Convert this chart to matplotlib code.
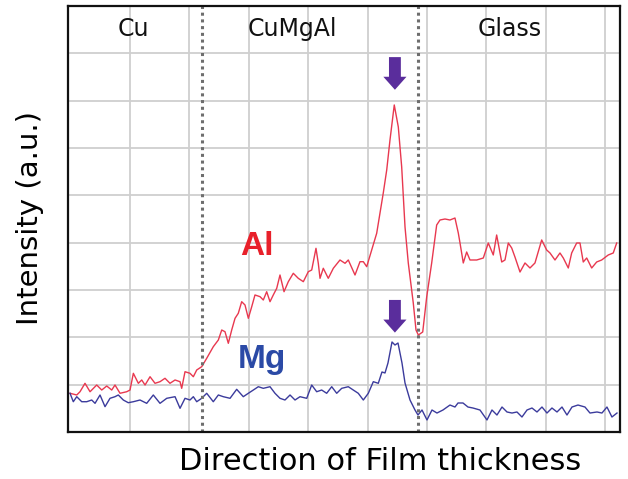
import numpy as np
import matplotlib.pyplot as plt
from matplotlib.patches import FancyArrow

# Al profile (position, intensity)
al_x = [-0.1, 1.03, 1.58, 2.42, 3.27, 4.39, 5.24, 6.08, 6.92, 7.47, 8.32, 9.44, 10.0,
        10.56, 11.4, 11.97, 12.53, 13.37, 14.21, 15.05, 15.89, 16.73, 17.58, 18.42, 18.7,
        19.26, 20.1, 20.66, 21.23, 22.07, 22.91, 24.02, 24.87, 25.44, 25.99, 26.55, 27.12,
        27.68, 28.23, 28.8, 29.36, 29.92, 30.49, 31.04, 31.89, 32.44, 33.01, 33.57, 34.12,
        34.7, 35.25, 35.93, 36.65, 37.49, 38.33, 39.18, 40.02, 40.59, 41.31, 41.7, 41.99,
        42.54, 43.38, 44.23, 45.35, 46.2, 46.75, 47.88, 48.72, 49.28, 49.85, 50.69, 51.53,
        52.64, 53.22, 53.77, 54.49, 55.17, 55.74, 56.3, 56.85, 57.69, 58.15, 58.54, 59.28,
        59.95, 60.79, 61.63, 62.19, 63.03, 63.87, 64.71, 65.27, 65.56, 66.11, 66.68, 67.24,
        68.37, 69.48, 70.32, 71.16, 71.73, 72.58, 73.13, 73.69, 74.26, 74.81, 75.66, 76.5,
        77.34, 78.18, 79.31, 80.15, 80.71, 81.55, 82.39, 82.95, 83.79, 84.36, 85.2, 85.76,
        86.31, 86.89, 87.73, 88.57, 89.41, 90.52, 91.36, 91.94]
al_y = [8.18, 7.82, 8.51, 10.29, 8.51, 9.93, 8.87, 9.72, 8.87, 9.93, 8.18, 8.51, 8.87,
        12.4, 10.29, 10.99, 9.93, 11.68, 10.29, 10.63, 11.35, 10.29, 10.99, 10.63, 9.23,
        12.74, 12.4, 11.68, 13.1, 13.8, 15.57, 18.02, 19.44, 21.55, 21.19, 18.74, 21.55,
        24.02, 25.08, 27.53, 26.83, 24.02, 26.47, 28.95, 28.59, 27.89, 29.64, 27.53, 28.95,
        30.36, 33.17, 29.64, 31.76, 33.53, 32.47, 31.76, 33.87, 34.23, 38.81, 35.64, 32.47,
        34.59, 32.47, 34.59, 36.34, 35.64, 36.34, 33.17, 35.98, 35.98, 34.93, 38.45, 41.98,
        50.5, 55.36, 61.7, 69.09, 64.44, 55.99, 43.31, 35.71, 27.26, 21.55, 20.49, 21.13,
        28.52, 35.71, 43.73, 44.79, 45.0, 44.79, 45.21, 42.04, 39.93, 35.71, 38.03, 36.34,
        36.34, 36.76, 39.93, 37.4, 41.62, 35.92, 36.34, 39.93, 38.88, 36.97, 33.8, 35.71,
        34.65, 35.71, 40.57, 38.45, 37.82, 36.34, 37.82, 36.76, 34.65, 37.82, 39.93, 39.93,
        35.92, 36.76, 34.65, 35.92, 36.34, 37.4, 37.82, 39.93]

# Mg profile
mg_x = [-0.1, 0.45, 1.03, 1.87, 2.71, 3.55, 4.11, 4.95, 5.79, 6.63, 7.47, 8.03, 8.87,
        9.71, 10.56, 11.68, 12.81, 13.92, 15.05, 16.18, 17.58, 18.42, 19.26, 20.1, 20.66,
        21.23, 22.07, 22.91, 24.02, 24.87, 25.71, 26.84, 27.96, 29.07, 29.92, 30.76, 31.6,
        32.44, 33.57, 34.41, 35.25, 36.09, 36.94, 37.78, 38.62, 39.75, 40.59, 41.43, 42.27,
        43.11, 43.96, 44.8, 45.64, 46.75, 47.59, 48.43, 49.28, 50.12, 50.96, 51.8, 52.42,
        52.93, 53.43, 54.11, 54.61, 55.12, 55.79, 56.3, 57.14, 57.98, 58.48, 59.16, 60.0,
        60.84, 61.68, 62.69, 63.87, 64.71, 65.22, 66.06, 66.9, 67.74, 68.92, 70.1, 70.94,
        71.78, 72.63, 73.47, 74.31, 75.15, 75.99, 76.84, 77.68, 78.52, 79.36, 80.2, 81.04,
        81.89, 82.73, 83.57, 84.41, 85.42, 86.6, 87.44, 88.62, 89.46, 90.3, 91.14, 91.99]
mg_y = [8.18, 6.4, 7.46, 6.4, 6.4, 6.76, 6.06, 7.82, 5.35, 7.12, 7.46, 7.82, 6.76,
        6.19, 6.4, 6.76, 6.06, 7.82, 6.06, 7.12, 7.46, 5.01, 7.12, 6.76, 7.46,
        6.4, 7.12, 8.18, 6.4, 7.82, 7.46, 7.12, 9.02, 7.46, 8.18, 8.87, 9.57,
        9.23, 9.57, 8.18, 7.12, 6.76, 7.82, 6.76, 7.46, 7.12, 9.93, 8.51, 8.87,
        8.18, 9.57, 8.18, 9.23, 9.57, 8.87, 8.18, 6.76, 8.18, 10.63, 10.29, 12.68,
        12.47, 14.58, 19.02, 18.38, 18.8, 14.58, 10.35, 6.76, 4.65, 3.59, 4.65, 2.54,
        4.65, 4.01, 4.65, 5.7, 5.28, 6.13, 6.13, 5.28, 5.07, 4.65, 2.54, 4.65,
        3.59, 5.28, 4.23, 4.01, 4.23, 3.17, 4.65, 5.07, 4.23, 5.28, 4.01, 5.07,
        4.23, 5.28, 3.59, 5.28, 5.7, 5.28, 4.01, 4.23, 4.01, 5.28, 3.17, 4.01]

# layer boundaries and names
boundaries = [22.12, 58.48]
layer_names = ['Cu', 'CuMgAl', 'Glass']
layer_pos = [10.5, 37.3, 74.0]
peak_pos = 54.6

fig = plt.figure(figsize=(6.28, 4.79), dpi=100)
ax = fig.add_axes([0.1083, 0.0981, 0.879, 0.8894])

ax.plot(al_x, al_y, color='#e8384f', linewidth=1.0)
ax.plot(mg_x, mg_y, color='#3b3b9c', linewidth=1.0)

# dotted layer boundaries
for b in boundaries:
    ax.axvline(b, color='#6e6e6e', linestyle=(0, (1, 1.2)), linewidth=2.2)

# layer names along the top
for name, xp in zip(layer_names, layer_pos):
    ax.text(xp, 83.6, name, fontsize=17, ha='center', va='baseline', color='#111111')

# element labels
ax.text(28.5, 37.4, 'Al', fontsize=24, fontweight='bold', family='Liberation Sans',
        color='#e8202a', va='baseline')
ax.text(28.2, 13.5, 'Mg', fontsize=24, fontweight='bold', family='Liberation Sans',
        color='#2b4aa6', va='baseline')

# arrows marking the peaks
for top in [79.2, 27.9]:
    ax.add_patch(FancyArrow(peak_pos, top, 0, -6.9, width=2.0, head_width=3.9,
                            head_length=2.75, length_includes_head=True,
                            color='#5a2d9c', linewidth=0))

ax.set_xlim(-0.44, 92.5)
ax.set_ylim(0, 90)
ax.set_xticks(np.arange(10, 100, 10))
ax.set_yticks(np.arange(10, 90, 10))
ax.tick_params(length=0, labelbottom=False, labelleft=False)
ax.grid(True, color='#cfcfcf', linewidth=1.3)
ax.set_axisbelow(True)
for s in ax.spines.values():
    s.set_linewidth(1.6)
    s.set_color('#111111')

fig.text(30 / 628, 1 - 218 / 479, 'Intensity (a.u.)', rotation=90, fontsize=21,
         ha='center', va='center')
fig.text(380 / 628, 1 - 462 / 479, 'Direction of Film thickness', fontsize=22,
         ha='center', va='center')

fig.savefig('out.png', dpi=100)
